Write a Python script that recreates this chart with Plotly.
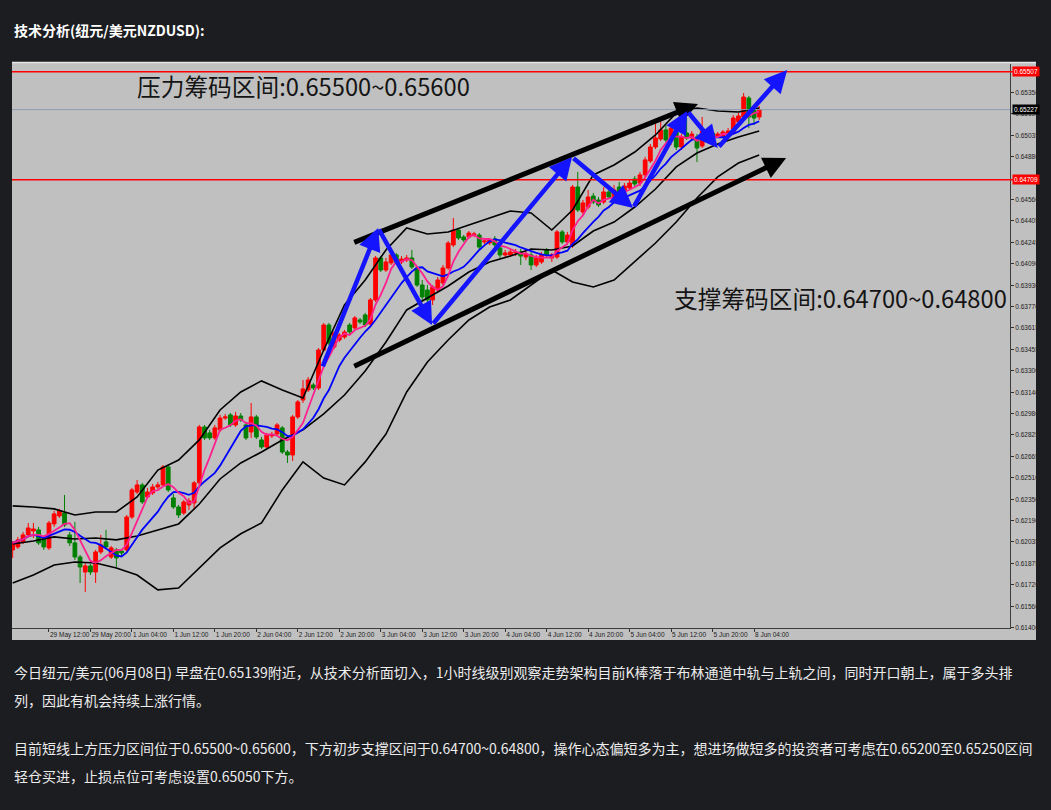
import plotly.graph_objects as go
import pandas as pd

# ---------------- data (NZDUSD, H1) ----------------
open_ = [0.61976, 0.61998, 0.62035, 0.62087, 0.62116, 0.62124, 0.62057, 0.61991, 0.62168, 0.62227,
         0.62249, 0.62087, 0.62028, 0.61924, 0.61813, 0.61858, 0.61813, 0.61961, 0.62035, 0.61924,
         0.61976, 0.61968, 0.61976, 0.62219, 0.62404, 0.62456, 0.62367, 0.62397, 0.62441, 0.62456,
         0.62589, 0.62360, 0.62293, 0.62249, 0.62308, 0.62323, 0.62471, 0.62884, 0.62840, 0.62803,
         0.62862, 0.62950, 0.62973, 0.62899, 0.62965, 0.62899, 0.62847, 0.62958, 0.62788, 0.62736,
         0.62818, 0.62832, 0.62877, 0.62699, 0.62677, 0.62958, 0.63083, 0.63157, 0.63194, 0.63172,
         0.63452, 0.63637, 0.63475, 0.63526, 0.63548, 0.63637, 0.63615, 0.63674, 0.63711, 0.63644,
         0.63822, 0.64132, 0.64043, 0.64095, 0.64154, 0.64102, 0.64117, 0.64132, 0.64058, 0.63932,
         0.63895, 0.63822, 0.63895, 0.63947, 0.64058, 0.64228, 0.64338, 0.64287, 0.64287, 0.64301,
         0.64301, 0.64250, 0.64242, 0.64272, 0.64206, 0.64154, 0.64154, 0.64169, 0.64176, 0.64139,
         0.64154, 0.64080, 0.64102, 0.64191, 0.64132, 0.64139, 0.64324, 0.64250, 0.64228, 0.64656,
         0.64471, 0.64508, 0.64589, 0.64560, 0.64545, 0.64619, 0.64575, 0.64656, 0.64619, 0.64649,
         0.64715, 0.64685, 0.64745, 0.64848, 0.64951, 0.65010, 0.65077, 0.64995, 0.65091, 0.64951,
         0.65055, 0.65018, 0.65025, 0.64959, 0.65032, 0.65055, 0.65032, 0.65032, 0.65055, 0.65055,
         0.65136, 0.65173, 0.65313, 0.65224, 0.65173]
high = [0.62042, 0.62072, 0.62109, 0.62175, 0.62175, 0.62146, 0.62079, 0.62190, 0.62264, 0.62279,
        0.62382, 0.62109, 0.62183, 0.61939, 0.61880, 0.61872, 0.61976, 0.62087, 0.62124, 0.62005,
        0.61991, 0.61983, 0.62234, 0.62434, 0.62493, 0.62471, 0.62434, 0.62463, 0.62478, 0.62603,
        0.62603, 0.62389, 0.62308, 0.62345, 0.62360, 0.62485, 0.62899, 0.62899, 0.62862, 0.62899,
        0.62973, 0.62980, 0.62987, 0.62995, 0.62987, 0.62921, 0.63061, 0.62973, 0.62810, 0.62840,
        0.62847, 0.62913, 0.62891, 0.62714, 0.62973, 0.63083, 0.63231, 0.63253, 0.63209, 0.63467,
        0.63652, 0.63652, 0.63593, 0.63578, 0.63600, 0.63652, 0.63703, 0.63689, 0.63726, 0.63836,
        0.64146, 0.64146, 0.64132, 0.64176, 0.64169, 0.64146, 0.64154, 0.64191, 0.64073, 0.63969,
        0.63932, 0.63932, 0.63991, 0.64080, 0.64257, 0.64427, 0.64353, 0.64301, 0.64331, 0.64324,
        0.64316, 0.64272, 0.64279, 0.64294, 0.64220, 0.64191, 0.64191, 0.64198, 0.64198, 0.64191,
        0.64176, 0.64154, 0.64176, 0.64206, 0.64169, 0.64338, 0.64338, 0.64324, 0.64671, 0.64767,
        0.64560, 0.64634, 0.64612, 0.64582, 0.64656, 0.64649, 0.64671, 0.64693, 0.64685, 0.64708,
        0.64737, 0.64767, 0.64878, 0.64973, 0.65128, 0.65151, 0.65114, 0.65106, 0.65136, 0.65047,
        0.65166, 0.65069, 0.65047, 0.65173, 0.65077, 0.65069, 0.65062, 0.65077, 0.65091, 0.65187,
        0.65202, 0.65350, 0.65328, 0.65246, 0.65254]
low = [0.61917, 0.61983, 0.62020, 0.62072, 0.62064, 0.62013, 0.61976, 0.61976, 0.62146, 0.62212,
       0.62146, 0.62005, 0.61902, 0.61732, 0.61666, 0.61791, 0.61732, 0.61946, 0.61983, 0.61909,
       0.61850, 0.61932, 0.61961, 0.62205, 0.62389, 0.62315, 0.62352, 0.62382, 0.62426, 0.62441,
       0.62404, 0.62279, 0.62212, 0.62234, 0.62271, 0.62271, 0.62456, 0.62788, 0.62788, 0.62788,
       0.62847, 0.62936, 0.62884, 0.62884, 0.62921, 0.62788, 0.62803, 0.62795, 0.62722, 0.62722,
       0.62803, 0.62818, 0.62685, 0.62618, 0.62633, 0.62943, 0.63061, 0.63142, 0.63157, 0.63157,
       0.63438, 0.63489, 0.63460, 0.63511, 0.63534, 0.63571, 0.63600, 0.63644, 0.63622, 0.63630,
       0.63807, 0.64028, 0.64028, 0.64080, 0.64087, 0.64087, 0.64102, 0.64050, 0.63918, 0.63822,
       0.63763, 0.63785, 0.63881, 0.63932, 0.64043, 0.64213, 0.64265, 0.64250, 0.64272, 0.64287,
       0.64198, 0.64235, 0.64228, 0.64213, 0.64132, 0.64132, 0.64139, 0.64146, 0.64080, 0.64117,
       0.64043, 0.64065, 0.64087, 0.64132, 0.64102, 0.64124, 0.64235, 0.64228, 0.64206, 0.64471,
       0.64449, 0.64493, 0.64530, 0.64508, 0.64530, 0.64567, 0.64560, 0.64597, 0.64604, 0.64634,
       0.64663, 0.64663, 0.64722, 0.64833, 0.64936, 0.64995, 0.64988, 0.64966, 0.64929, 0.64929,
       0.65003, 0.65003, 0.64840, 0.64944, 0.65018, 0.64988, 0.65018, 0.65018, 0.65040, 0.65040,
       0.65121, 0.65158, 0.65091, 0.65114, 0.65151]
close = [0.62028, 0.62050, 0.62087, 0.62138, 0.62131, 0.62028, 0.61998, 0.62175, 0.62242, 0.62264,
         0.62160, 0.62028, 0.61924, 0.61850, 0.61858, 0.61813, 0.61961, 0.62013, 0.61998, 0.61991,
         0.61917, 0.61954, 0.62219, 0.62419, 0.62456, 0.62330, 0.62404, 0.62441, 0.62456, 0.62589,
         0.62419, 0.62293, 0.62234, 0.62330, 0.62338, 0.62471, 0.62884, 0.62803, 0.62803, 0.62877,
         0.62950, 0.62958, 0.62899, 0.62965, 0.62936, 0.62803, 0.62958, 0.62810, 0.62736, 0.62825,
         0.62825, 0.62899, 0.62699, 0.62677, 0.62958, 0.63069, 0.63165, 0.63231, 0.63172, 0.63452,
         0.63637, 0.63504, 0.63578, 0.63563, 0.63585, 0.63585, 0.63689, 0.63659, 0.63637, 0.63822,
         0.64132, 0.64043, 0.64102, 0.64154, 0.64102, 0.64124, 0.64132, 0.64065, 0.63932, 0.63844,
         0.63822, 0.63918, 0.63969, 0.64058, 0.64242, 0.64338, 0.64279, 0.64265, 0.64316, 0.64309,
         0.64213, 0.64257, 0.64265, 0.64228, 0.64154, 0.64169, 0.64176, 0.64176, 0.64146, 0.64161,
         0.64080, 0.64132, 0.64154, 0.64154, 0.64154, 0.64324, 0.64250, 0.64301, 0.64656, 0.64486,
         0.64538, 0.64582, 0.64545, 0.64523, 0.64619, 0.64582, 0.64634, 0.64612, 0.64663, 0.64685,
         0.64678, 0.64745, 0.64856, 0.64951, 0.65018, 0.65077, 0.65003, 0.65091, 0.64951, 0.65025,
         0.65018, 0.65047, 0.64944, 0.65069, 0.65055, 0.65003, 0.65047, 0.65062, 0.65069, 0.65165,
         0.65180, 0.65320, 0.65173, 0.65165, 0.65227]
bars = list(range(1, len(close) + 1))   # hourly bar index (weekend skipped)

tick_bars = [8, 16, 24, 32, 40, 48, 56, 64, 72, 80, 88, 96, 104, 112, 120, 128, 136, 144]
tick_labels = ["29 May 12:00", "29 May 20:00", "1 Jun 04:00", "1 Jun 12:00", "1 Jun 20:00",
               "2 Jun 04:00", "2 Jun 12:00", "2 Jun 20:00", "3 Jun 04:00", "3 Jun 12:00",
               "3 Jun 20:00", "4 Jun 04:00", "4 Jun 12:00", "4 Jun 20:00", "5 Jun 04:00",
               "5 Jun 12:00", "5 Jun 20:00", "8 Jun 04:00"]

band_bars = [1, 5, 9, 13, 17, 21, 25, 29, 33, 37, 41, 45, 49, 53, 57, 61, 65, 69, 73, 77,
             81, 85, 89, 93, 97, 101, 105, 109, 113, 117, 121, 125, 129, 133, 137, 141, 145]
bb_upper = [0.62301, 0.62293, 0.62279, 0.62234, 0.62256, 0.62256, 0.62367, 0.62566, 0.62640, 0.62788,
            0.63009, 0.63142, 0.63224, 0.63157, 0.63098, 0.63452, 0.63785, 0.63969, 0.64191, 0.64353,
            0.64309, 0.64324, 0.64375, 0.64427, 0.64479, 0.64464, 0.64338, 0.64486, 0.64745, 0.64818,
            0.64914, 0.65040, 0.65202, 0.65239, 0.65217, 0.65210, 0.65239]
bb_middle = [0.62020, 0.62042, 0.62072, 0.62057, 0.62064, 0.62050, 0.62079, 0.62124, 0.62168, 0.62315,
             0.62500, 0.62618, 0.62699, 0.62788, 0.62862, 0.62980, 0.63120, 0.63297, 0.63511, 0.63748,
             0.63836, 0.63925, 0.64028, 0.64102, 0.64146, 0.64198, 0.64191, 0.64220, 0.64331, 0.64397,
             0.64508, 0.64641, 0.64804, 0.64907, 0.64973, 0.65025, 0.65069]
bb_lower = [0.61732, 0.61791, 0.61865, 0.61887, 0.61880, 0.61843, 0.61791, 0.61681, 0.61695, 0.61843,
            0.61991, 0.62095, 0.62175, 0.62419, 0.62626, 0.62507, 0.62456, 0.62626, 0.62832, 0.63142,
            0.63364, 0.63526, 0.63674, 0.63770, 0.63822, 0.63932, 0.64043, 0.63954, 0.63918, 0.63969,
            0.64102, 0.64242, 0.64397, 0.64575, 0.64730, 0.64833, 0.64892]

price_ticks = [0.65350, 0.65195, 0.65035, 0.64880, 0.64560, 0.64405, 0.64245, 0.64090, 0.63930,
               0.63770, 0.63615, 0.63455, 0.63300, 0.63140, 0.62980, 0.62825, 0.62665, 0.62510,
               0.62350, 0.62190, 0.62035, 0.61875, 0.61720, 0.61560, 0.61400]
resistance_level = 0.65507
support_level = 0.64709
last_price = 0.65227

# hand-drawn blue zig-zag and black channel (bar index, price)
blue_path_bar = [60.7, 71.5, 81.9, 108.9, 120.7, 131.1, 137.0, 150.4]
blue_path_price = [0.63320, 0.64353, 0.63637, 0.64878, 0.64501, 0.65217, 0.64944, 0.65520]
channel_top_bar = [66.6, 133.2]
channel_top_price = [0.64242, 0.65269]
channel_bot_bar = [66.6, 150.2]
channel_bot_price = [0.63327, 0.64870]

resist_text = "压力筹码区间:0.65500~0.65600"
support_text = "支撑筹码区间:0.64700~0.64800"
title_text = "技术分析(纽元/美元NZDUSD):"
para_lines = [
    "今日纽元/美元(06月08日) 早盘在0.65139附近，从技术分析面切入，1小时线级别观察走势架构目前K棒落于布林通道中轨与上轨之间，同时开口朝上，属于多头排",
    "列，因此有机会持续上涨行情。",
    "目前短线上方压力区间位于0.65500~0.65600，下方初步支撑区间于0.64700~0.64800，操作心态偏短多为主，想进场做短多的投资者可考虑在0.65200至0.65250区间",
    "轻仓买进，止损点位可考虑设置0.65050下方。",
]

# ---------------- figure ----------------
W, H = 1051, 810
PL, PR, PT, PB = 12, 1010, 64, 628   # plot area in pixels
pw, ph = PR - PL, PB - PT


def px_x(x):
    return (x - PL) / pw


def px_y(y):
    return (PB - y) / ph


cjk = "Noto Sans CJK SC"
page_bg = "#1c1d21"
fig = go.Figure()

fig.add_trace(go.Candlestick(
    x=bars, open=open_, high=high, low=low, close=close,
    increasing=dict(line=dict(color="#ff0000", width=1), fillcolor="#ff0000"),
    decreasing=dict(line=dict(color="#008000", width=1), fillcolor="#008000"),
    whiskerwidth=0, showlegend=False, hoverinfo="skip"))

for series in (bb_upper, bb_middle, bb_lower):
    fig.add_trace(go.Scatter(x=band_bars, y=series, mode="lines",
                             line=dict(color="#000000", width=1.6),
                             showlegend=False, hoverinfo="skip"))

closes = pd.Series(close)
ma_fast = closes.rolling(5, min_periods=1).mean()
ma_slow = closes.rolling(10, min_periods=1).mean()
fig.add_trace(go.Scatter(x=bars, y=ma_slow, mode="lines",
                         line=dict(color="#0000ff", width=1.8), showlegend=False, hoverinfo="skip"))
fig.add_trace(go.Scatter(x=bars, y=ma_fast, mode="lines",
                         line=dict(color="#ff1f8f", width=1.8), showlegend=False, hoverinfo="skip"))

shapes = [
    # chart picture background (incl. axis label strips)
    dict(type="rect", xref="paper", yref="paper", x0=0, x1=px_x(1036), y0=px_y(640), y1=px_y(62.5),
         fillcolor="#c0c0c0", line=dict(width=0), layer="below"),
    dict(type="line", xref="paper", yref="paper", x0=0, x1=px_x(1036), y0=px_y(62.5), y1=px_y(62.5),
         line=dict(color="#e6e6e6", width=1.5), layer="below"),
    dict(type="line", xref="paper", yref="y", x0=0, x1=1, y0=last_price, y1=last_price,
         line=dict(color="#8c9db3", width=1)),
    dict(type="line", xref="paper", yref="y", x0=0, x1=1.003, y0=resistance_level, y1=resistance_level,
         line=dict(color="#ff0000", width=1.5)),
    dict(type="line", xref="paper", yref="y", x0=0, x1=1.003, y0=support_level, y1=support_level,
         line=dict(color="#ff0000", width=1.5)),
]

annotations = []
# axis price tags
for lvl, bg in ((resistance_level, "#ff0000"), (support_level, "#ff0000"), (last_price, "#000000")):
    annotations.append(dict(xref="paper", yref="y", x=px_x(1012), y=lvl, xanchor="left", yanchor="middle",
                            text=f"{lvl:.5f}", showarrow=False, bgcolor=bg, borderpad=1,
                            font=dict(family="Liberation Sans", size=6.5, color="#ffffff")))

# channel lines
for bx, py in ((channel_top_bar, channel_top_price), (channel_bot_bar, channel_bot_price)):
    annotations.append(dict(x=bx[1], y=py[1], ax=bx[0], ay=py[0], xref="x", yref="y",
                            axref="x", ayref="y", text="", showarrow=True, arrowhead=2,
                            arrowsize=0.9, arrowwidth=5, arrowcolor="#000000", standoff=0))
# blue zig-zag
for i in range(len(blue_path_bar) - 1):
    annotations.append(dict(x=blue_path_bar[i + 1], y=blue_path_price[i + 1],
                            ax=blue_path_bar[i], ay=blue_path_price[i], xref="x", yref="y",
                            axref="x", ayref="y", text="", showarrow=True, arrowhead=2,
                            arrowsize=1.0, arrowwidth=4.5, arrowcolor="#1414ff", standoff=0))

annotations.append(dict(x=24.6, y=0.65401, xref="x", yref="y", xanchor="left", yanchor="middle",
                        text=resist_text, showarrow=False,
                        font=dict(family=cjk, size=23.7, color="#141414")))
annotations.append(dict(x=128.2, y=0.63836, xref="x", yref="y", xanchor="left", yanchor="middle",
                        text=support_text, showarrow=False,
                        font=dict(family=cjk, size=23.7, color="#141414")))

# page text
annotations.append(dict(xref="paper", yref="paper", x=0, y=px_y(30), xanchor="left", yanchor="middle",
                        text=f"<b>{title_text}</b>", showarrow=False,
                        font=dict(family=cjk, size=14, color="#ffffff")))
for line, py in zip(para_lines, (672, 700, 748, 776)):
    annotations.append(dict(xref="paper", yref="paper", x=0, y=px_y(py), xanchor="left", yanchor="middle",
                            text=line, showarrow=False,
                            font=dict(family=cjk, size=14, color="#ececec")))

fig.update_layout(
    width=W, height=H,
    margin=dict(l=PL, r=W - PR, t=PT, b=H - PB, autoexpand=False),
    paper_bgcolor=page_bg, plot_bgcolor="#c0c0c0",
    shapes=shapes, annotations=annotations,
    boxgap=0.15, boxgroupgap=0.15,
    showlegend=False,
    xaxis=dict(range=[0.868, 193.38], tickmode="array", tickvals=tick_bars, ticktext=tick_labels,
               tickangle=0, ticks="outside", ticklen=3, tickcolor="#333333",
               ticklabelposition="outside right",
               tickfont=dict(family="Liberation Sans", size=6.5, color="#222222"),
               showgrid=False, zeroline=False, showline=True, linecolor="#3c3c3c", linewidth=1,
               rangeslider=dict(visible=False), fixedrange=True),
    yaxis=dict(side="right", range=[0.613995, 0.65564], tickmode="array", tickvals=price_ticks,
               ticktext=[f"{v:.5f}" for v in price_ticks], ticks="outside", ticklen=3,
               tickcolor="#333333", tickfont=dict(family="Liberation Sans", size=6.5, color="#222222"),
               showgrid=False, zeroline=False, showline=True, linecolor="#3c3c3c", linewidth=1,
               fixedrange=True),
)

fig.write_html(
    "out.html",
    config={"displayModeBar": False},
    post_script=(f"document.body.style.margin='0';document.body.style.padding='0';"
                 f"document.body.style.background='{page_bg}';"),
)
